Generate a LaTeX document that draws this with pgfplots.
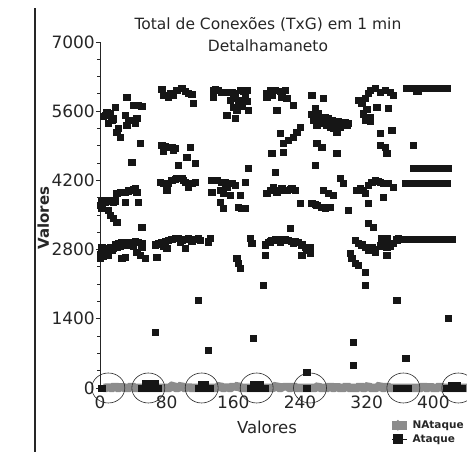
\documentclass[border=0pt]{standalone}
\usepackage{fontspec}
\setmainfont{DejaVu Sans}
\usepackage{pgfplots}
\pgfplotsset{compat=1.18}
\definecolor{nat}{RGB}{140,140,140}
\definecolor{atq}{RGB}{22,22,22}
\begin{document}
\begin{tikzpicture}
\useasboundingbox (-100pt,-64pt) rectangle (367pt,388pt);
\clip (-100pt,-64pt) rectangle (367pt,388pt);
\draw[line width=1.6pt, black!85] (-65pt,-64pt) -- (-65pt,380pt);
\begin{axis}[
  at={(0pt,0pt)}, anchor=south west,
  scale only axis, width=366.7pt, height=346pt,
  xmin=0, xmax=440, ymin=0, ymax=7000,
  clip=false,
  axis x line*=bottom, axis y line*=left,
  axis line style={-},
  x axis line style={draw=none},
  y axis line style={line width=0.8pt, black!85},
  xtick={0,80,...,400}, xtick style={draw=none},
  ytick={0,1400,...,7000}, minor y tick num=3,
  tick align=outside,
  major tick length=4pt, minor tick length=2.5pt,
  ytick style={line width=0.8pt, black!85},
  /pgf/number format/assume math mode=true,
  /pgf/number format/1000 sep={},
  tick label style={font=\fontsize{17}{20}\selectfont, text=black!85},
  yticklabel style={inner xsep=1pt},
  title={Total de Conexões (TxG) em 1 min\\Detalhamaneto},
  title style={at={(axis description cs:0.458,1.003)}, anchor=center, align=center, font=\fontsize{15.5}{22}\selectfont, text=black!85},
  xlabel={Valores},
  xlabel style={at={(axis description cs:0.4554,-0.113)}, anchor=center, font=\fontsize{16.5}{20}\selectfont, text=black!85},
  ylabel={Valores},
  ylabel style={at={(axis description cs:-0.155,0.491)}, anchor=center, font=\bfseries\fontsize{15}{18}\selectfont, text=black!85},
  legend style={at={(axis description cs:0.785,-0.091)}, anchor=north west, draw=none, fill=none,
    font=\bfseries\fontsize{10.5}{13}\selectfont, row sep=3pt, inner sep=0pt,
    nodes={inner sep=1pt, text=black!85}},
  legend cell align=left,
]
\addplot[nat, line width=8.5pt, line join=bevel,
  legend image code/.code={\path (0pt,0pt) -- (15pt,0pt); \path[fill=nat, draw=none, line width=0pt] (5.5pt,5.5pt) -- (11pt,0pt) -- (5.5pt,-5.5pt) -- (0pt,0pt) -- cycle;}]
coordinates {
(4,0)(8,0)(10,40)(12,0)(16,0)(18,60)(20,0)(24,0)(26,50)(28,0)(32,0)(36,0)(38,60)(40,0)(44,0)(48,0)(52,0)(56,0)(60,0)(64,0)(68,0)(72,0)(76,0)(80,0)(84,0)(86,40)(88,60)(90,0)(94,0)(98,60)(100,0)(104,0)(106,40)(108,0)(112,0)(116,0)(120,0)(124,0)(128,0)(132,0)(136,0)(140,0)(144,60)(146,0)(150,0)(152,40)(154,0)(158,0)(160,60)(162,0)(166,60)(168,0)(172,0)(176,0)(180,0)(184,0)(188,0)(192,0)(196,0)(200,0)(204,0)(208,0)(212,60)(214,0)(218,0)(220,50)(222,0)(224,60)(226,0)(230,0)(232,60)(234,0)(238,0)(242,0)(246,0)(250,0)(254,0)(258,0)(262,40)(264,0)(266,0)(270,0)(274,0)(276,60)(278,0)(282,0)(284,50)(286,0)(290,0)(294,0)(296,60)(298,0)(302,0)(306,0)(310,0)(312,60)(314,0)(318,0)(322,50)(324,0)(328,0)(332,0)(336,60)(338,0)(342,0)(344,60)(346,0)(350,0)(354,0)(358,0)(362,0)(366,0)(370,0)(374,0)(378,0)(382,0)(386,0)(388,60)(390,0)(394,0)(396,50)(398,0)(402,0)(406,0)(408,60)(410,0)(414,0)(418,0)(422,0)(426,0)(430,0)(434,0)(438,0)(442,0)
};
\addlegendentry{NAtaque}
\addplot[only marks, mark=square*, mark size=3.2pt, atq,
  legend image code/.code={\path (0pt,0pt) -- (15pt,0pt); \path[fill=atq, draw=none, line width=0pt] (0.5pt,-5pt) rectangle (10.5pt,5pt);}]
coordinates {
(4,5500)(6,5515)(8,5580)(12,5555)(10,5353)(14,5414)(18,5676)(16,5450)(20,5171)(24,5070)(22,5250)(30,5515)(32,5878)(34,5414)(32,5313)(38,5414)(44,5454)(40,5717)(42,5353)(46,5717)(50,5696)(48,4949)
(74,6040)(76,5919)(82,5878)(88,5919)(84,5950)(92,6020)(98,6060)(102,6000)(106,5960)(110,5940)(112,5757)(74,4909)(78,4880)(80,4868)(86,4868)(90,4848)(108,4868)(76,4800)(88,4820)(94,4505)(104,4666)(114,4545)(38,4565)
(136,6020)(138,6040)(142,6020)(146,5980)(150,5990)(152,5980)(158,5980)(162,5960)(168,6020)(172,6000)(176,6020)(136,5878)(156,5818)(160,5900)(162,5858)(168,5818)(174,5878)(176,5800)(160,5676)(166,5757)(178,5616)(152,5515)(162,5454)(164,5616)(170,5700)
(200,5960)(204,6020)(210,6020)(216,6000)(222,6020)(200,5878)(206,5920)(218,5878)(224,5858)(232,5717)(212,5616)(226,5010)(232,5070)(236,5171)(240,5272)(216,5151)(220,4950)(178,4444)(206,4747)(220,4767)(210,4363)
(254,5919)(268,5858)(258,5656)(262,5555)(264,5454)(266,5353)(254,5535)(256,5414)(260,5313)(270,5474)(274,5450)(278,5420)(282,5400)(286,5400)(290,5380)(294,5380)(298,5360)(296,5330)(272,5330)(276,5280)(280,5260)(284,5300)(288,5280)(284,5171)(260,4949)(266,4868)(258,4505)(284,4747)(268,5400)(262,5380)
(310,5818)(314,5757)(318,5858)(322,5960)(324,6020)(330,6060)(336,5980)(342,6020)(348,5980)(352,5919)(320,5636)(324,5474)(318,5414)(324,5393)(332,5676)(346,5656)(336,5151)(350,5212)(336,4909)(342,4870)(344,4747)(316,5550)
(368,6060)(370,6060)(372,6060)(374,6060)(376,6060)(378,6060)(380,6000)(382,6000)(384,6060)(386,6060)(388,6060)(390,6060)(392,6060)(394,6060)(396,6060)(398,6060)(400,6060)(402,6060)(404,6060)(406,6060)(408,6060)(410,6060)(412,6060)(414,6060)(416,6060)(376,4909)
(2,3780)(4,3800)(6,3760)(8,3800)(12,3780)(14,3800)(16,3770)(18,3790)(0,3700)(2,3650)(10,3596)(12,3495)(16,3434)(20,3353)(20,3939)(24,3959)(26,3960)(30,3959)(34,3990)(36,4000)(40,4020)(42,4040)(44,3959)(30,3757)(46,3757)(50,3252)
(72,4161)(76,4141)(80,4141)(82,4141)(86,4202)(90,4220)(92,4242)(96,4250)(98,4242)(102,4161)(106,4060)(110,4141)(114,4161)(80,4000)(100,4200)
(134,4202)(138,4200)(140,4202)(146,4161)(150,4150)(152,4141)(158,4141)(162,4101)(134,3959)(144,4000)(148,3939)(156,3899)(144,3757)(148,3636)(166,3656)(170,3636)(174,3636)(168,3899)(174,4161)(152,4060)
(200,3939)(204,4000)(208,4060)(212,3959)(216,4000)(218,4040)(224,4000)(228,4020)(230,4040)(234,4000)(240,3737)
(254,3737)(258,3720)(260,3696)(266,3656)(270,3650)(272,3656)(276,3656)(268,4000)(274,3939)(280,3899)(288,4242)(292,4141)(298,3596)
(308,4000)(312,4040)(316,4000)(318,3939)(322,4101)(326,4161)(330,4202)(334,4180)(336,4161)(340,4141)(346,4141)(352,4060)(322,3737)(340,3858)(322,3333)(328,3252)
(366,4141)(368,4141)(370,4141)(372,4141)(374,4141)(376,4141)(378,4141)(380,4141)(382,4141)(384,4141)(386,4141)(388,4141)(390,4141)(392,4141)(394,4141)(396,4141)(398,4141)(400,4141)(402,4141)(404,4141)(406,4141)(408,4141)(410,4141)(412,4141)(414,4141)(416,4141)
(376,4444)(378,4444)(380,4444)(382,4444)(384,4444)(386,4444)(388,4444)(390,4444)(392,4444)(394,4444)(396,4444)(398,4444)(400,4444)(402,4444)(404,4444)(406,4444)(408,4444)(410,4444)(412,4444)(414,4444)(416,4444)(418,4444)
(0,2700)(2,2750)(2,2850)(4,2780)(6,2800)(6,2720)(8,2820)(10,2790)(10,2700)(12,2850)(14,2800)(16,2830)(0,2640)(4,2680)
(18,2900)(22,2930)(26,2950)(30,2950)(34,2950)(38,2950)(42,2970)(46,2950)(50,2920)(20,2850)(24,2880)(28,2900)(36,2900)(40,2880)
(26,2626)(30,2646)(44,2747)(48,2686)(54,2626)(68,2646)(50,2850)
(66,2900)(70,2920)(74,2950)(78,2970)(82,2990)(86,3010)(90,3030)(94,3030)(98,2990)(102,3010)(106,3030)(110,2980)(114,3010)(118,3030)(80,2828)(102,2828)(76,2880)(96,2950)(120,2990)(132,3030)(130,2960)
(164,2626)(166,2525)(168,2424)(180,3030)(182,2929)(198,2686)
(198,2900)(202,2950)(206,2990)(210,3000)(214,3010)(218,3000)(222,3010)(226,2990)(230,2970)(234,2960)(238,2950)(242,2900)(246,2850)(250,2830)(252,2850)(242,2686)(252,2727)(228,3232)(196,2080)(204,2960)(216,2960)(232,2930)(248,2790)
(300,2727)(302,2626)(306,2525)(310,2485)
(306,2990)(310,2930)(314,2900)(318,2850)(322,2800)(326,2850)(330,2800)(336,2880)(340,2900)(344,2850)(348,2880)(352,2930)(356,3000)(358,3030)(338,3030)(344,3030)(318,2343)(318,2080)(344,2686)(330,2760)
(364,3010)(366,3010)(368,3010)(370,3010)(372,3010)(374,3010)(376,3010)(378,3010)(380,3010)(382,3010)(384,3010)(386,3010)(388,3010)(390,3010)(392,3010)(394,3010)(396,3010)(398,3010)(400,3010)(402,3010)(404,3010)(406,3010)(408,3010)(410,3010)(412,3010)(414,3010)(416,3010)(418,3010)(420,3010)(422,3010)
(118,1778)(356,1778)(66,1131)(130,768)(184,1010)(248,323)(304,929)(304,465)(367,606)(418,1414)
(2,0)(50,0)(52,0)(54,0)(56,0)(58,0)(60,0)(62,0)(64,0)(66,0)(68,0)(70,0)(54,100)(58,100)(62,100)(66,100)
(118,0)(120,0)(122,0)(124,0)(126,0)(128,0)(130,0)(132,0)(122,80)(126,80)
(180,0)(182,0)(184,0)(186,0)(188,0)(190,0)(192,0)(194,0)(196,0)(198,0)(184,80)(188,80)(192,80)
(248,0)
(356,0)(358,0)(360,0)(362,0)(364,0)(366,0)(368,0)(370,0)
(416,0)(418,0)(420,0)(422,0)(424,0)(426,0)(428,0)(430,0)(432,0)(434,0)(422,60)(428,60)
};
\addlegendentry{Ataque}
\draw[black!85, line width=0.6pt] (axis cs:10,0) ellipse [x radius=16.5pt, y radius=15pt];
\draw[black!85, line width=0.6pt] (axis cs:58,0) ellipse [x radius=16.5pt, y radius=15pt];
\draw[black!85, line width=0.6pt] (axis cs:122,0) ellipse [x radius=16.5pt, y radius=15pt];
\draw[black!85, line width=0.6pt] (axis cs:188,0) ellipse [x radius=16.5pt, y radius=15pt];
\draw[black!85, line width=0.6pt] (axis cs:252,0) ellipse [x radius=16.5pt, y radius=15pt];
\draw[black!85, line width=0.6pt] (axis cs:364,0) ellipse [x radius=16.5pt, y radius=15pt];
\draw[black!85, line width=0.6pt] (axis cs:430,0) ellipse [x radius=16.5pt, y radius=15pt];
\end{axis}
\end{tikzpicture}
\end{document}
